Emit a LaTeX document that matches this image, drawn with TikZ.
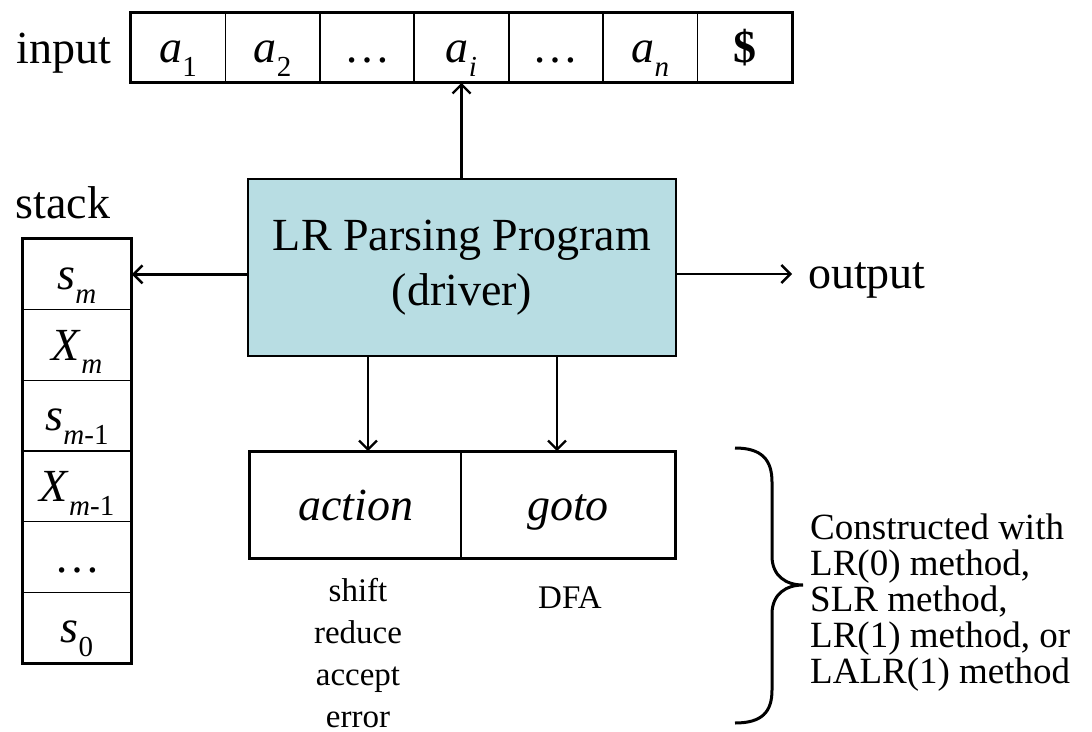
\documentclass[tikz,border=0pt]{standalone}
\usepackage{fontspec}
\setmainfont{Liberation Serif}
\usetikzlibrary{arrows.meta}
\newcommand{\fbig}{\fontsize{46}{55}\selectfont}
\newcommand{\fsmall}{\fontsize{33}{42}\selectfont}
\newcommand{\fside}{\fontsize{37}{36}\selectfont}
\newcommand{\msub}[2]{#1\raisebox{-0.3em}{\fontsize{29}{29}\selectfont #2}}
\definecolor{lrblue}{RGB}{184,221,227}
\tikzset{
  cell/.style={draw, line width=1.6pt, inner sep=0pt, font=\fbig, text height=32pt, text depth=2pt},
  incell/.style={cell, minimum width=94.43pt, minimum height=69pt},
  stcell/.style={cell, minimum width=108pt, minimum height=70.67pt},
  tcell/.style={cell, minimum height=106pt},
  outer/.style={line width=3.2pt},
  arr/.style={line width=2.8pt, -{Straight Barb[length=9pt,width=18pt,line width=2.4pt]}},
  lbl/.style={inner sep=0pt, font=\fbig}
}
\begin{document}
\begin{tikzpicture}[x=1pt,y=-1pt]
\useasboundingbox (0,0) rectangle (1092,731);
% input tape
\node[lbl, anchor=base] (inlbl) at (64,63) {input};
\node[incell] (i1) at (178.2,47.5) {\msub{\textit{a}}{1}};
\node[incell] (i2) at (272.6,47.5) {\msub{\textit{a}}{2}};
\node[incell] (i3) at (367.1,47.5) {…};
\node[incell] (i4) at (461.5,47.5) {\msub{\textit{a}}{\textit{i}}};
\node[incell] (i5) at (555.9,47.5) {…};
\node[incell] (i6) at (650.4,47.5) {\msub{\textit{a}}{\textit{n}}};
\node[incell] (i7) at (744.8,47.5) {\textbf{\$}};
\draw[outer] (i1.north west) rectangle (i7.south east);
% stack
\node[lbl, anchor=base] (stlbl) at (63,218) {stack};
\node[stcell] (s1) at (77,274.3) {\msub{\textit{s}}{\textit{m}}};
\node[stcell] (s2) at (77,345.0) {\msub{\textit{X}}{\textit{m}}};
\node[stcell] (s3) at (77,415.7) {\msub{\textit{s}}{\textit{m}-1}};
\node[stcell] (s4) at (77,486.3) {\msub{\textit{X}}{\textit{m}-1}};
\node[stcell] (s5) at (77,557.0) {…};
\node[stcell] (s6) at (77,627.7) {\msub{\textit{s}}{0}};
\draw[outer] (s1.north west) rectangle (s6.south east);
% driver
\node[draw, line width=1.6pt, fill=lrblue, minimum width=428pt, minimum height=177pt,
      align=center, font=\fbig] (lr) at (462,267.5) {LR Parsing Program\\(driver)};
% table
\node[tcell, minimum width=211pt] (act) at (355.5,505) {\textit{action}};
\node[tcell, minimum width=214pt] (got) at (568,505) {\textit{goto}};
\draw[outer] (act.north west) rectangle (got.south east);
\node[align=center, inner sep=0pt, font=\fsmall] (acts) at (358,653) {shift\\reduce\\accept\\error};
\node[inner sep=0pt, font=\fsmall] (dfa) at (570,598) {DFA};
% output
\coordinate (outpt) at (792,274);
\node[lbl, anchor=base west] (out) at (808,288) {output};
% arrows
\draw[arr] (lr.north -| i4) -- (i4.south);
\draw[arr] (lr.west |- s1) -- (s1.east);
\draw[arr] (lr.east |- outpt) -- (outpt);
\coordinate (d1) at (368,400);
\coordinate (d2) at (557,400);
\draw[arr] (lr.south -| d1) -- (act.north -| d1);
\draw[arr] (lr.south -| d2) -- (got.north -| d2);
% brace
\draw[line width=3pt] (735,448) .. controls (762,448) and (772,460) .. (772,482)
  -- (772,556) .. controls (772,576) and (786,585) .. (803,585)
  .. controls (786,585) and (772,594) .. (772,614)
  -- (772,690) .. controls (772,712) and (762,723) .. (735,723);
\node[anchor=west, align=left, inner sep=0pt, font=\fside] (methods) at (810,603)
  {Constructed with\\LR(0) method,\\SLR method,\\LR(1) method, or\\LALR(1) method};
\end{tikzpicture}
\end{document}
